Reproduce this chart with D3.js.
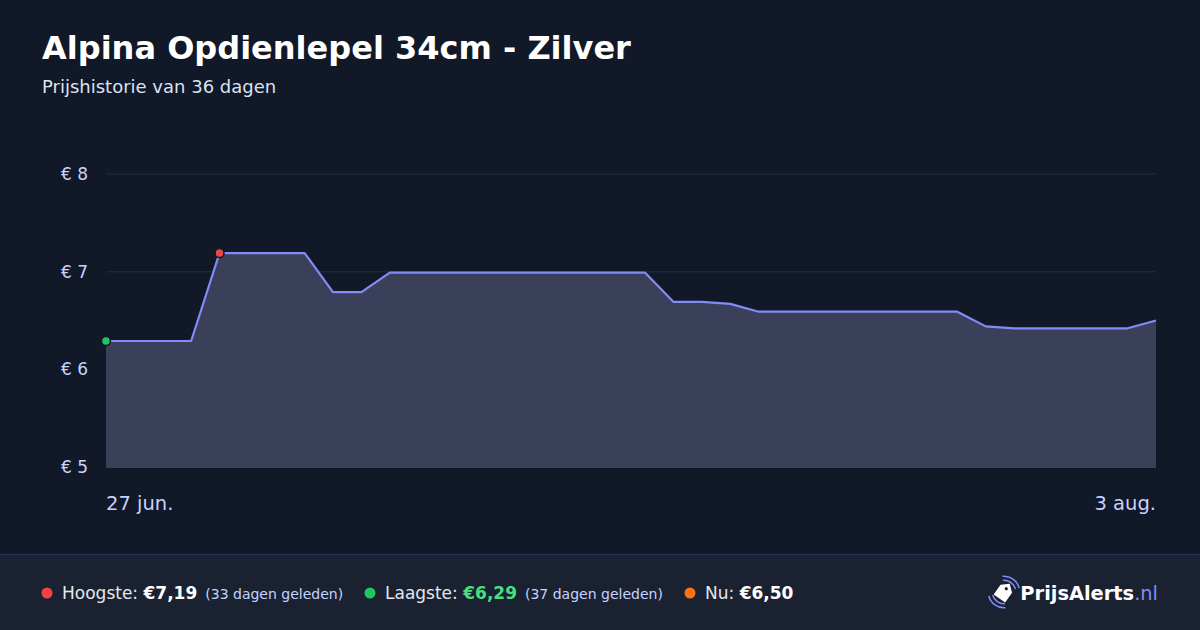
<!DOCTYPE html>
<html>
<head>
<meta charset="utf-8">
<script src="https://cdn.jsdelivr.net/npm/d3@7"></script>
<style>
  html, body { margin: 0; padding: 0; background: #111827; }
  svg { display: block; font-family: "DejaVu Sans", sans-serif; }
</style>
</head>
<body>
<svg id="chart" width="1200" height="630"></svg>
<script>
// price history (only the days where the line changes direction)
const dates = ["2025-06-27", "2025-06-30", "2025-07-01", "2025-07-04", "2025-07-05", "2025-07-06",
  "2025-07-07", "2025-07-16", "2025-07-17", "2025-07-18", "2025-07-19", "2025-07-20",
  "2025-07-27", "2025-07-28", "2025-07-29", "2025-08-02", "2025-08-03"];
const prices = [6.29, 6.29, 7.19, 7.19, 6.79, 6.79, 6.99, 6.99, 6.69, 6.69, 6.67, 6.59,
  6.59, 6.44, 6.42, 6.42, 6.50];
const yTicks = [5, 6, 7, 8];
const xTickLabels = ["27 jun.", "3 aug."];

const title = "Alpina Opdienlepel 34cm - Zilver";
const subtitle = "Prijshistorie van 36 dagen";

const parse = d3.timeParse("%Y-%m-%d");
const data = dates.map((d, i) => ({ date: parse(d), price: prices[i] }));

const svg = d3.select("#chart");
const width = 1200, height = 630;
const margin = { top: 174, right: 44, bottom: 163, left: 106 };

svg.append("rect").attr("width", width).attr("height", height).attr("fill", "#111827");

// Title
svg.append("text")
  .attr("x", 42).attr("y", 59)
  .attr("fill", "#ffffff")
  .attr("font-size", "32px")
  .attr("font-weight", "bold")
  .text(title);

svg.append("text")
  .attr("x", 42).attr("y", 93)
  .attr("fill", "#dbe2f0")
  .attr("font-size", "18px")
  .text(subtitle);

const x = d3.scaleTime()
  .domain(d3.extent(data, d => d.date))
  .range([margin.left, width - margin.right]);

const y = d3.scaleLinear()
  .domain([5, 8])
  .range([height - margin.bottom, margin.top]);

// grid
const grid = svg.append("g");
grid.selectAll("line")
  .data(yTicks)
  .enter().append("line")
  .attr("x1", margin.left)
  .attr("x2", width - margin.right)
  .attr("y1", d => y(d))
  .attr("y2", d => y(d))
  .attr("stroke", d => d === 5 ? "#4b5563" : "#1f2737")
  .attr("stroke-width", 1.5);

// y labels
svg.append("g").selectAll("text")
  .data(yTicks)
  .enter().append("text")
  .attr("x", 88)
  .attr("y", d => y(d))
  .attr("dy", "0.35em")
  .attr("text-anchor", "end")
  .attr("fill", "#c7d2fe")
  .attr("font-size", "17px")
  .text(d => "€ " + d);

// area + line
const area = d3.area()
  .x(d => x(d.date))
  .y0(y(5))
  .y1(d => y(d.price));

const line = d3.line()
  .x(d => x(d.date))
  .y(d => y(d.price));

svg.append("path")
  .datum(data)
  .attr("fill", "#3a3f5a")
  .attr("d", area);

svg.append("path")
  .datum(data)
  .attr("fill", "none")
  .attr("stroke", "#818cf8")
  .attr("stroke-width", 2.2)
  .attr("stroke-linejoin", "round")
  .attr("d", line);

// min / max markers
const maxPt = data.reduce((a, b) => b.price > a.price ? b : a);
const minPt = data.reduce((a, b) => b.price < a.price ? b : a);
[[minPt, "#22c55e"], [maxPt, "#ef4444"]].forEach(([p, c]) => {
  svg.append("circle")
    .attr("cx", x(p.date))
    .attr("cy", y(p.price))
    .attr("r", 4.5)
    .attr("fill", c)
    .attr("stroke", "#111827")
    .attr("stroke-width", 1.5);
});

// x labels (first and last date)
const [d0, d1] = x.domain();
svg.append("text")
  .attr("x", x(d0)).attr("y", 510)
  .attr("fill", "#c7d2fe")
  .attr("font-size", "19.5px")
  .text(xTickLabels[0]);
svg.append("text")
  .attr("x", x(d1)).attr("y", 510)
  .attr("text-anchor", "end")
  .attr("fill", "#c7d2fe")
  .attr("font-size", "19.5px")
  .text(xTickLabels[1]);

// footer
svg.append("rect")
  .attr("x", 0).attr("y", 554)
  .attr("width", width).attr("height", 76)
  .attr("fill", "#1a2232");
svg.append("line")
  .attr("x1", 0).attr("x2", width)
  .attr("y1", 554.5).attr("y2", 554.5)
  .attr("stroke", "#273055");

const fmt = v => "€" + v.toFixed(2).replace(".", ",");
const last = data[data.length - 1];
const dayMs = 864e5;
const ago = p => Math.round((last.date - p.date) / dayMs);

const stats = [
  { dot: "#ef4444", label: "Hoogste: ", value: fmt(maxPt.price), valColor: "#ffffff", note: `(${ago(maxPt)} dagen geleden)` },
  { dot: "#22c55e", label: "Laagste: ", value: fmt(minPt.price), valColor: "#4ade80", note: `(${ago(minPt)} dagen geleden)` },
  { dot: "#f97316", label: "Nu: ", value: fmt(last.price), valColor: "#ffffff", note: null }
];
const startX = [47, 370, 690];

stats.forEach((s, i) => {
  const g = svg.append("g");
  g.append("circle")
    .attr("cx", startX[i]).attr("cy", 593)
    .attr("r", 5.5)
    .attr("fill", s.dot);
  const t = g.append("text")
    .attr("x", startX[i] + 15).attr("y", 599)
    .attr("font-size", "17px")
    .attr("fill", "#e5e7eb");
  t.append("tspan").text(s.label);
  t.append("tspan").attr("font-weight", "bold").attr("fill", s.valColor).text(s.value);
  if (s.note) {
    t.append("tspan").attr("dx", 8).attr("font-size", "14px").attr("fill", "#c7d2fe").text(s.note);
  }
});

// logo
const logo = svg.append("g");
logo.append("text")
  .attr("x", 1158).attr("y", 600)
  .attr("text-anchor", "end")
  .attr("font-size", "19.4px")
  .attr("font-weight", "bold")
  .attr("fill", "#ffffff")
  .call(t => {
    t.append("tspan").text("PrijsAlerts");
    t.append("tspan").attr("font-weight", "normal").attr("fill", "#818cf8").text(".nl");
  });

const icon = logo.append("g").attr("transform", "translate(1004,592) rotate(35)");
icon.append("path")
  .attr("d", "M-7,-4 L0,-10 L7,-4 L7,8 L-7,8 Z")
  .attr("fill", "#ffffff");
icon.append("circle").attr("cx", 0).attr("cy", -4).attr("r", 1.6).attr("fill", "#1a2232");
const arc1 = d3.arc().innerRadius(11).outerRadius(12.5);
const arc2 = d3.arc().innerRadius(15).outerRadius(16.5);
[arc1, arc2].forEach(a => {
  icon.append("path").attr("d", a({ startAngle: -0.7, endAngle: 0.7 }))
    .attr("fill", "#818cf8");
  icon.append("path").attr("d", a({ startAngle: Math.PI - 0.7, endAngle: Math.PI + 0.7 }))
    .attr("fill", "#818cf8");
});
</script>
</body>
</html>
